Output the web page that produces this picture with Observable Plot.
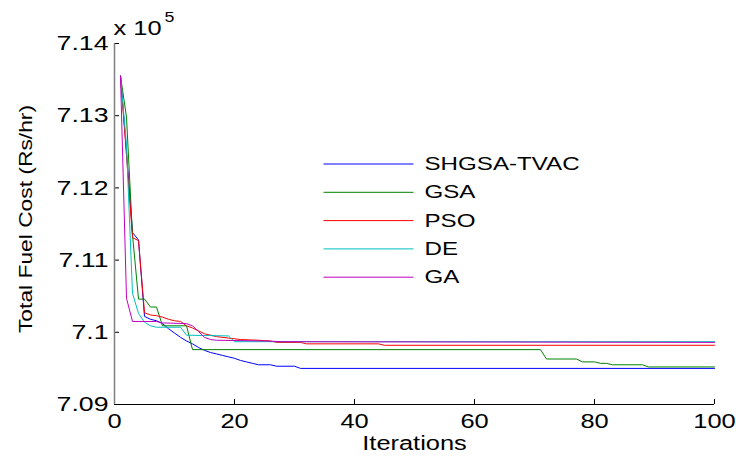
<!DOCTYPE html>
<html><head><meta charset="utf-8">
<script src="https://cdn.jsdelivr.net/npm/d3@7"></script>
<script src="https://cdn.jsdelivr.net/npm/@observablehq/plot@0.6"></script>
<style>html,body{margin:0;padding:0;background:#fff;}</style>
</head><body><div id="chart"></div>
<script>
// ---- data (cost in units of 1e5 Rs/hr) ----
const seriesNames = ["SHGSA-TVAC", "GSA", "PSO", "DE", "GA"];
const seriesColors = ["#0000ff", "#008000", "#ff0000", "#00bfbf", "#bf00bf"];

const shgsaIter = [1,2,3,4,5,6,7,8,9,10,11,12,13,14,15,16,17,18,19,20,21,22,23,24,26,27,30,31,100];
const shgsaCost = [7.1355,7.1250,7.1138,7.1128,7.1022,7.1018,7.1016,7.1012,7.1005,7.0999,7.0993,7.0988,7.0984,7.0979,7.0975,7.0972,7.0970,7.0968,7.0966,7.0964,7.0961,7.0959,7.0957,7.0955,7.0955,7.0953,7.0953,7.0950,7.0950];

const gsaIter = [1,2,3,4,5,6,7,8,12,13,71,72,77,78,80,81,82,83,88,89,100];
const gsaCost = [7.1355,7.1298,7.1135,7.1046,7.1046,7.1035,7.1035,7.1009,7.1009,7.0976,7.0976,7.0963,7.0963,7.0959,7.0959,7.0957,7.0957,7.0955,7.0955,7.0952,7.0952];

const psoIter = [1,2,3,4,5,6,7,8,9,10,11,12,13,14,15,16,17,19,21,24,26,27,31,32,44,45,100];
const psoCost = [7.1355,7.1245,7.1131,7.1127,7.1027,7.1024,7.1023,7.1021,7.1018,7.1016,7.1015,7.1009,7.1006,7.1002,7.0998,7.0996,7.0994,7.0992,7.0990,7.0989,7.0988,7.0986,7.0986,7.0984,7.0984,7.0982,7.0982];

const deIter = [1,2,3,4,5,6,7,11,12,19,20,100];
const deCost = [7.1355,7.1259,7.1054,7.1026,7.1014,7.1009,7.1007,7.1007,7.0996,7.0995,7.0987,7.0987];

const gaIter = [1,2,3,7,8,12,13,14,15,16,17,25,28,100];
const gaCost = [7.1355,7.1047,7.1015,7.1015,7.1013,7.1012,7.1009,7.1001,7.0993,7.0990,7.0989,7.0988,7.0987,7.0986];

const xTicks = [0, 20, 40, 60, 80, 100];
const yTicks = [7.09, 7.10, 7.11, 7.12, 7.13, 7.14];
const yTickLabels = ["7.09", "7.1", "7.11", "7.12", "7.13", "7.14"];
const xLabel = "Iterations";
const yLabel = "Total Fuel Cost (Rs/hr)";
const multLabel = "x 10";
const multExp = "5";

// ---- layout ----
const W = 736, H = 456, mL = 114, mR = 22, mT = 43, mB = 52;
const xDomain = [0, 100], yDomain = [7.09, 7.14];
const FONT = "'Liberation Sans', Arial, sans-serif";
const stretch = 1.27;

const iters = [shgsaIter, gsaIter, psoIter, deIter, gaIter];
const costs = [shgsaCost, gsaCost, psoCost, deCost, gaCost];
const rows = [];
seriesNames.forEach((name, k) => {
  iters[k].forEach((it, i) => rows.push({series: name, iter: it, cost: costs[k][i]}));
});

const xs = d3.scaleLinear(xDomain, [mL, W - mR]);
const ys = d3.scaleLinear(yDomain, [H - mB, mT]);
const legX1 = 323, legX2 = 413, legTextX = 424, legY0 = 163.5, legDY = 28.3;
const legend = seriesNames.map((name, i) => ({
  name, x1: xs.invert(legX1), x2: xs.invert(legX2), xt: xs.invert(legTextX), y: ys.invert(legY0 + i * legDY)
}));
const tickLen = 5;

// measure the y label so it can be anchored at its start and centred after stretching
const ctx = document.createElement("canvas").getContext("2d");
ctx.font = "19px " + FONT;
const yLabelLen = ctx.measureText(yLabel).width * 1.2;

const chart = Plot.plot({
  width: W, height: H, marginLeft: mL, marginRight: mR, marginTop: mT, marginBottom: mB,
  style: {fontFamily: FONT, fontSize: "20px", color: "#000", background: "#fff", overflow: "visible"},
  x: {domain: xDomain},
  y: {domain: yDomain},
  color: {domain: seriesNames, range: seriesColors},
  marks: [
    Plot.axisX({ticks: xTicks, tickSize: 0, tickPadding: 9, label: null, fontSize: 20}),
    Plot.axisY({ticks: yTicks, tickSize: 0, tickPadding: 6, label: null, fontSize: 21,
      tickFormat: d => yTickLabels[yTicks.findIndex(v => Math.abs(v - d) < 1e-9)]}),
    Plot.ruleX(xTicks, {x: d => d, y1: yDomain[0], y2: ys.invert(H - mB - tickLen), stroke: "#000"}),
    Plot.ruleY(yTicks, {y: d => d, x1: xDomain[0], x2: xs.invert(mL + tickLen), stroke: "#000"}),
    Plot.ruleX([xDomain[0]], {stroke: "#808080", strokeWidth: 1.5}),
    Plot.ruleY([yDomain[0]], {stroke: "#000"}),
    Plot.line(rows, {x: "iter", y: "cost", z: "series", stroke: "series", strokeWidth: 1}),
    Plot.link(legend, {x1: "x1", x2: "x2", y1: "y", y2: "y", stroke: "name", strokeWidth: 1}),
    Plot.text(legend, {x: "xt", y: "y", text: "name", textAnchor: "start", fontSize: 19}),
    Plot.text([xLabel], {frameAnchor: "bottom", dy: 45, fontSize: 20}),
    Plot.text([yLabel], {frameAnchor: "left", rotate: -90, textAnchor: "start", dx: -89, dy: yLabelLen / 2 - 5, fontSize: 19}),
    Plot.text([multLabel], {frameAnchor: "top-left", textAnchor: "start", lineAnchor: "bottom", dx: -1, dy: -9, fontSize: 20}),
    Plot.text([multExp], {frameAnchor: "top-left", textAnchor: "start", lineAnchor: "bottom", dx: 50, dy: -22, fontSize: 14})
  ]
});
document.getElementById("chart").append(chart);

// widen glyphs to match the stretched look of the original figure
chart.querySelectorAll("text").forEach(t => {
  const L = t.getComputedTextLength();
  if (L > 0) {
    const f = t.textContent === yLabel ? 1.2 : stretch;
    t.setAttribute("textLength", (L * f).toFixed(2));
    t.setAttribute("lengthAdjust", "spacingAndGlyphs");
  }
});
</script>
</body></html>
